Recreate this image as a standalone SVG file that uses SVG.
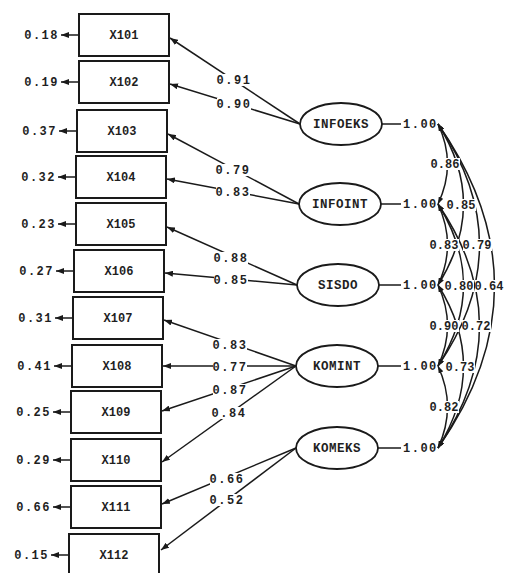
<svg xmlns="http://www.w3.org/2000/svg" width="505" height="573" viewBox="0 0 505 573">
<defs>
<marker id="ah" viewBox="0 0 8 6" refX="8" refY="3" markerWidth="8" markerHeight="6" markerUnits="userSpaceOnUse" orient="auto"><path d="M0,0 L8,3 L0,6 z" fill="#1a1a1a"/></marker>
<marker id="ah2" viewBox="0 0 7 5" refX="7" refY="2.5" markerWidth="7" markerHeight="5" markerUnits="userSpaceOnUse" orient="auto-start-reverse"><path d="M0,0 L7,2.5 L0,5 z" fill="#1a1a1a"/></marker>
<style>
text{font-family:"Liberation Mono","DejaVu Sans Mono",monospace;font-weight:bold;fill:#1f1f1f}
.num{font-size:12px;letter-spacing:1.5px}
.lab text{font-size:12px;letter-spacing:1.5px;text-anchor:middle}
.cov text{font-size:12px;text-anchor:middle}
.bg{fill:#fff}
.box rect{fill:#fff;stroke:#1a1a1a;stroke-width:2}
.box text{font-size:12px;text-anchor:middle}
.lat ellipse{fill:#fff;stroke:#1a1a1a;stroke-width:1.8}
.lat text{font-size:12.5px;letter-spacing:0.5px;text-anchor:middle}
.ln{stroke:#1a1a1a;stroke-width:1.5;fill:none}
.ld{marker-end:url(#ah)}
.arc{marker-start:url(#ah2);marker-end:url(#ah2)}
</style>
</defs>
<rect width="505" height="573" fill="#fff"/>

<g id="connectors">
  <g class="ln ld">
    <line x1="79" y1="35" x2="61" y2="35"/>
    <line x1="79" y1="82" x2="61" y2="82"/>
    <line x1="77" y1="131" x2="59" y2="131"/>
    <line x1="76" y1="177" x2="58" y2="177"/>
    <line x1="76" y1="224" x2="58" y2="224"/>
    <line x1="74" y1="271" x2="56" y2="271"/>
    <line x1="73" y1="318" x2="55" y2="318"/>
    <line x1="72" y1="366" x2="54" y2="366"/>
    <line x1="71" y1="412" x2="53" y2="412"/>
    <line x1="71" y1="460" x2="53" y2="460"/>
    <line x1="71" y1="507" x2="53" y2="507"/>
    <line x1="69" y1="555" x2="51" y2="555"/>
  </g>
  <g class="ln ld">
    <line x1="300" y1="124" x2="170" y2="38"/>
    <line x1="300" y1="124" x2="170" y2="84"/>
    <line x1="299" y1="204" x2="168" y2="134"/>
    <line x1="299" y1="204" x2="167" y2="179"/>
    <line x1="297" y1="285" x2="167" y2="227"/>
    <line x1="297" y1="285" x2="165" y2="273"/>
    <line x1="296" y1="366" x2="164" y2="320"/>
    <line x1="296" y1="366" x2="163" y2="366"/>
    <line x1="296" y1="366" x2="162" y2="411"/>
    <line x1="296" y1="366" x2="162" y2="462"/>
    <line x1="296" y1="448" x2="162" y2="504"/>
    <line x1="296" y1="448" x2="161" y2="550"/>
  </g>
  <g class="ln">
    <line x1="382" y1="124" x2="401" y2="124"/>
    <line x1="381" y1="204" x2="401" y2="204"/>
    <line x1="379" y1="285" x2="401" y2="285"/>
    <line x1="378" y1="366" x2="401" y2="366"/>
    <line x1="378" y1="448" x2="401" y2="448"/>
  </g>
  <g class="ln arc">
    <path d="M438,124 Q551,286 438,448"/>
    <path d="M438,124 Q521,245 438,366"/>
    <path d="M438,204 Q521,326 438,448"/>
    <path d="M438,124 Q489,204 438,285"/>
    <path d="M438,204 Q489,285 438,366"/>
    <path d="M438,285 Q489,366 438,448"/>
    <path d="M438,124 Q457,164 438,204"/>
    <path d="M438,204 Q457,245 438,285"/>
    <path d="M438,285 Q457,326 438,366"/>
    <path d="M438,366 Q457,407 438,448"/>
  </g>
  <g class="lab">
    <rect class="bg" x="217" y="74" width="34" height="12"/><text x="234" y="84">0.91</text>
    <rect class="bg" x="217" y="98" width="34" height="12"/><text x="234" y="108">0.90</text>
    <rect class="bg" x="216" y="164" width="34" height="12"/><text x="233" y="174">0.79</text>
    <rect class="bg" x="216" y="186" width="34" height="12"/><text x="233" y="196">0.83</text>
    <rect class="bg" x="214" y="252" width="34" height="12"/><text x="231" y="262">0.88</text>
    <rect class="bg" x="214" y="274" width="34" height="12"/><text x="231" y="284">0.85</text>
    <rect class="bg" x="213" y="339" width="34" height="12"/><text x="230" y="349">0.83</text>
    <rect class="bg" x="213" y="361" width="34" height="12"/><text x="230" y="371">0.77</text>
    <rect class="bg" x="213" y="384" width="34" height="12"/><text x="230" y="394">0.87</text>
    <rect class="bg" x="212" y="407" width="34" height="12"/><text x="229" y="417">0.84</text>
    <rect class="bg" x="210" y="473" width="34" height="12"/><text x="227" y="483">0.66</text>
    <rect class="bg" x="210" y="494" width="34" height="12"/><text x="227" y="504">0.52</text>
  </g>
  <g class="num">
    <text x="403" y="128">1.00</text>
    <text x="403" y="208">1.00</text>
    <text x="403" y="289">1.00</text>
    <text x="403" y="370">1.00</text>
    <text x="403" y="452">1.00</text>
  </g>
  <g class="cov">
    <rect class="bg" x="431" y="158" width="29" height="12"/><text x="445" y="168">0.86</text>
    <rect class="bg" x="430" y="239" width="29" height="12"/><text x="444" y="249">0.83</text>
    <rect class="bg" x="430" y="320" width="29" height="12"/><text x="444" y="330">0.90</text>
    <rect class="bg" x="430" y="401" width="29" height="12"/><text x="444" y="411">0.82</text>
    <rect class="bg" x="447" y="199" width="29" height="12"/><text x="461" y="209">0.85</text>
    <rect class="bg" x="445" y="280" width="29" height="12"/><text x="459" y="290">0.80</text>
    <rect class="bg" x="446" y="361" width="29" height="12"/><text x="460" y="371">0.73</text>
    <rect class="bg" x="463" y="239" width="29" height="12"/><text x="477" y="249">0.79</text>
    <rect class="bg" x="462" y="320" width="29" height="12"/><text x="476" y="330">0.72</text>
    <rect class="bg" x="475" y="280" width="29" height="12"/><text x="489" y="290">0.64</text>
  </g>
  <g class="num" text-anchor="end">
    <text x="59" y="39">0.18</text>
    <text x="59" y="86">0.19</text>
    <text x="57" y="135">0.37</text>
    <text x="56" y="181">0.32</text>
    <text x="56" y="228">0.23</text>
    <text x="54" y="275">0.27</text>
    <text x="53" y="322">0.31</text>
    <text x="52" y="370">0.41</text>
    <text x="51" y="416">0.25</text>
    <text x="51" y="464">0.29</text>
    <text x="51" y="511">0.66</text>
    <text x="49" y="559">0.15</text>
  </g>
</g>

<g id="X101" class="box"><rect x="79" y="14" width="90" height="42"/><text x="124" y="39">X101</text></g>
<g id="X102" class="box"><rect x="79" y="61" width="90" height="42"/><text x="124" y="86">X102</text></g>
<g id="X103" class="box"><rect x="77" y="110" width="90" height="42"/><text x="122" y="135">X103</text></g>
<g id="X104" class="box"><rect x="76" y="156" width="90" height="42"/><text x="121" y="181">X104</text></g>
<g id="X105" class="box"><rect x="76" y="203" width="90" height="42"/><text x="121" y="228">X105</text></g>
<g id="X106" class="box"><rect x="74" y="250" width="90" height="42"/><text x="119" y="275">X106</text></g>
<g id="X107" class="box"><rect x="73" y="297" width="90" height="42"/><text x="118" y="322">X107</text></g>
<g id="X108" class="box"><rect x="72" y="345" width="90" height="42"/><text x="117" y="370">X108</text></g>
<g id="X109" class="box"><rect x="71" y="391" width="90" height="42"/><text x="116" y="416">X109</text></g>
<g id="X110" class="box"><rect x="71" y="439" width="90" height="42"/><text x="116" y="464">X110</text></g>
<g id="X111" class="box"><rect x="71" y="486" width="90" height="42"/><text x="116" y="511">X111</text></g>
<g id="X112" class="box"><rect x="69" y="534" width="90" height="42"/><text x="114" y="559">X112</text></g>

<g id="INFOEKS" class="lat"><ellipse cx="341" cy="124" rx="41" ry="21"/><text x="341" y="128">INFOEKS</text></g>
<g id="INFOINT" class="lat"><ellipse cx="340" cy="204" rx="41" ry="21"/><text x="340" y="208">INFOINT</text></g>
<g id="SISDO" class="lat"><ellipse cx="338" cy="285" rx="41" ry="21"/><text x="338" y="289">SISDO</text></g>
<g id="KOMINT" class="lat"><ellipse cx="337" cy="366" rx="41" ry="21"/><text x="337" y="370">KOMINT</text></g>
<g id="KOMEKS" class="lat"><ellipse cx="337" cy="448" rx="41" ry="21"/><text x="337" y="452">KOMEKS</text></g>
</svg>
